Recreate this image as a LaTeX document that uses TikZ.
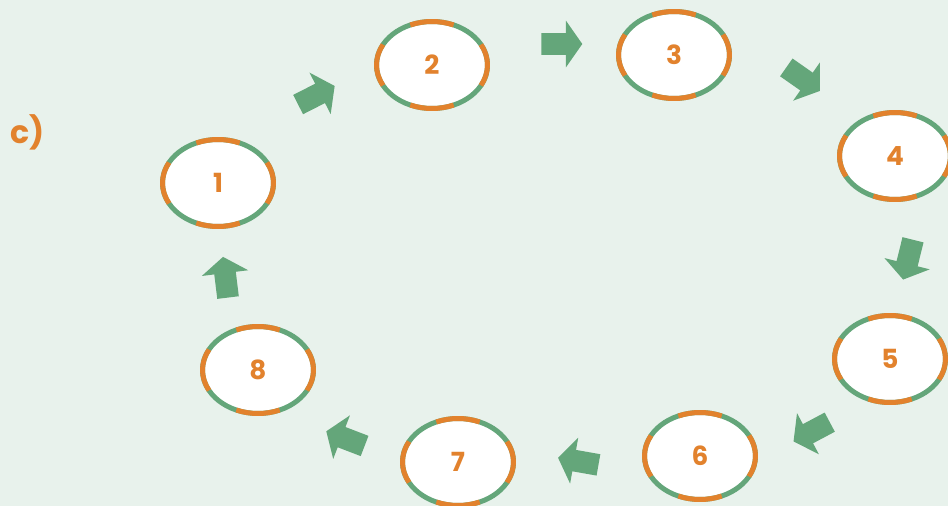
\documentclass[tikz,border=0pt]{standalone}
\usepackage{fontspec}
\usepackage{xcolor}
\usepackage{tikz}
\usetikzlibrary{shapes.geometric,shapes.arrows}
\newfontfamily\roundfont{Poppins}
\definecolor{cyclebg}{RGB}{232,242,236}
\definecolor{cyclegreen}{RGB}{100,166,122}
\definecolor{cycleorange}{RGB}{226,130,45}

\begin{document}
\begin{tikzpicture}[
  x=0.02cm, y=-0.02cm,
  stage/.style={ellipse, draw=cyclegreen, fill=white, line width=0.1cm,
                minimum width=2.22cm, minimum height=1.74cm, inner sep=0,
                font=\roundfont\bfseries\fontsize{15}{15}\selectfont, text=cycleorange},
  rim/.style={draw=cycleorange, line width=0.1cm},
  flow/.style={single arrow, fill=cyclegreen, draw=none, inner xsep=0, inner ysep=0.21cm,
               minimum height=0.82cm, single arrow head extend=0.25cm,
               single arrow tip angle=110},
  tag/.style={font=\roundfont\bfseries\fontsize{18}{18}\selectfont, text=cycleorange},
]
\fill[cyclebg] (0,0) rectangle (948,506);
\useasboundingbox (0,0) rectangle (948,506);
\clip (0,0) rectangle (948,506);
% stages of the cycle, orange arcs on a green rim
\foreach \n/\x/\y in {1/218/183, 2/432/65, 3/674/55, 4/895/156,
                      5/890/359, 6/700/456, 7/458/462, 8/258/370} {
  \node[stage] (s\n) at (\x,\y) {\n};
  \foreach \k/\w in {0/28, 90/23, 180/28, 270/23}
    \draw[rim] ([shift={(\k-\w:1.11cm and 0.87cm)}]s\n.center)
      arc[start angle=\k-\w, end angle=\k+\w, x radius=1.11cm, y radius=0.87cm];
}
% block arrows between the stages
\foreach \a/\x/\y/\r in {12/313/97/27, 23/558/44/0, 34/800/77/-35, 45/909/256/-104,
                         56/815/430/208, 67/582/462/170, 78/349/440/159, 81/226/281/97} {
  \node[flow, rotate=\r] (f\a) at (\x,\y) {};
}
% panel label
\node[tag, anchor=west] (lbl) at (4,132) {c)};
\end{tikzpicture}
\end{document}
